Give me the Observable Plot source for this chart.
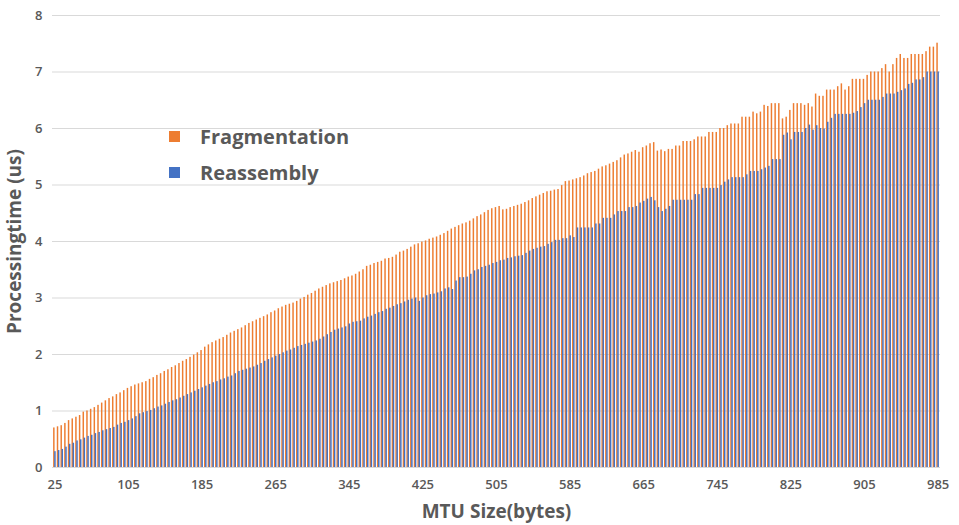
<!DOCTYPE html>
<html>
<head>
<meta charset="utf-8">
<script src="https://cdn.jsdelivr.net/npm/d3@7"></script>
<script src="https://cdn.jsdelivr.net/npm/@observablehq/plot@0.6"></script>
<style>
  html, body { margin: 0; padding: 0; background: #fff; }
  #wrap { position: relative; width: 959px; height: 525px; font-family: "Open Sans", sans-serif; }
  #chart g[aria-label="x-axis label"] text,
  #chart g[aria-label="y-axis label"] text { font-size: 19px; font-weight: 700; fill: #595959; }
  #chart g[aria-label="x-axis tick label"] text,
  #chart g[aria-label="y-axis tick label"] text { font-weight: 600; fill: #595959; }
  .legend { position: absolute; left: 169px; top: 118px; color: #595959; font-weight: 700; font-size: 20px; }
  .legend .row { display: flex; align-items: center; height: 36px; }
  .legend .sw { width: 11px; height: 11px; margin-right: 20px; }
</style>
</head>
<body>
<div id="wrap">
  <div id="chart"></div>
  <div class="legend" id="legend"></div>
</div>
<script>
// MTU sizes (bytes), one bar group each
const categories = d3.range(25, 986, 4);
// x-axis tick labels
const tickLabels = [25, 105, 185, 265, 345, 425, 505, 585, 665, 745, 825, 905, 985];
// y-axis ticks
const yTicks = [0, 1, 2, 3, 4, 5, 6, 7, 8];
const seriesNames = ["Fragmentation", "Reassembly"];
const seriesColors = ["#ED7D31", "#4472C4"];

// Fragmentation processing time (us)
const fragmentation = [
  0.70,0.72,0.74,0.78,0.83,0.86,0.89,0.92,0.98,1.00,
  1.03,1.06,1.10,1.14,1.18,1.22,1.25,1.29,1.32,1.36,
  1.40,1.43,1.46,1.48,1.50,1.52,1.56,1.59,1.63,1.66,
  1.70,1.73,1.77,1.80,1.84,1.88,1.91,1.95,1.99,2.03,
  2.07,2.13,2.17,2.21,2.24,2.27,2.30,2.34,2.38,2.41,
  2.44,2.47,2.51,2.55,2.58,2.61,2.64,2.67,2.70,2.74,
  2.77,2.81,2.84,2.87,2.89,2.91,2.94,2.98,3.01,3.05,
  3.08,3.12,3.16,3.19,3.22,3.25,3.27,3.29,3.31,3.34,
  3.37,3.39,3.42,3.46,3.50,3.56,3.58,3.61,3.63,3.65,
  3.69,3.70,3.72,3.76,3.81,3.83,3.86,3.90,3.94,3.96,
  3.99,4.01,4.04,4.06,4.08,4.11,4.14,4.18,4.22,4.25,
  4.28,4.31,4.33,4.36,4.40,4.44,4.47,4.51,4.55,4.58,
  4.60,4.62,4.56,4.57,4.60,4.62,4.64,4.66,4.69,4.72,
  4.76,4.79,4.82,4.85,4.88,4.89,4.91,4.92,4.99,5.06,
  5.07,5.09,5.11,5.13,5.16,5.20,5.22,5.24,5.28,5.32,
  5.34,5.37,5.40,5.43,5.48,5.53,5.55,5.58,5.61,5.58,
  5.66,5.69,5.73,5.75,5.60,5.62,5.59,5.63,5.63,5.69,
  5.69,5.77,5.77,5.77,5.80,5.85,5.85,5.85,5.93,5.93,
  5.93,6.00,6.00,6.05,6.08,6.08,6.08,6.20,6.20,6.20,
  6.29,6.26,6.29,6.41,6.39,6.44,6.44,6.44,6.17,6.20,
  6.32,6.44,6.44,6.44,6.41,6.44,6.38,6.61,6.57,6.57,
  6.68,6.68,6.68,6.74,6.79,6.68,6.74,6.87,6.87,6.87,
  6.87,6.94,7.00,7.00,7.00,7.06,7.13,7.00,7.13,7.24,
  7.31,7.24,7.24,7.31,7.31,7.31,7.31,7.36,7.44,7.44,
  7.51
];

// Reassembly processing time (us)
const reassembly = [
  0.28,0.30,0.32,0.36,0.41,0.43,0.47,0.49,0.52,0.55,
  0.57,0.60,0.62,0.65,0.67,0.69,0.71,0.75,0.78,0.80,
  0.83,0.86,0.90,0.95,0.97,0.99,1.01,1.04,1.07,1.09,
  1.12,1.15,1.18,1.20,1.23,1.26,1.29,1.32,1.35,1.38,
  1.41,1.44,1.47,1.50,1.52,1.55,1.57,1.60,1.62,1.66,
  1.70,1.72,1.74,1.76,1.78,1.81,1.84,1.88,1.91,1.94,
  1.97,2.00,2.03,2.06,2.08,2.11,2.14,2.16,2.18,2.20,
  2.22,2.24,2.27,2.31,2.35,2.39,2.43,2.45,2.47,2.49,
  2.54,2.57,2.58,2.59,2.63,2.66,2.68,2.71,2.74,2.76,
  2.80,2.82,2.85,2.88,2.90,2.93,2.96,2.98,3.00,2.94,
  3.00,3.04,3.06,3.07,3.09,3.11,3.16,3.18,3.15,3.30,
  3.36,3.36,3.37,3.42,3.48,3.50,3.54,3.56,3.58,3.61,
  3.63,3.66,3.67,3.70,3.71,3.73,3.74,3.75,3.79,3.83,
  3.86,3.88,3.90,3.91,3.95,3.98,4.02,4.02,4.05,4.05,
  4.10,4.07,4.24,4.24,4.24,4.24,4.24,4.31,4.31,4.41,
  4.41,4.41,4.47,4.53,4.53,4.53,4.60,4.60,4.62,4.68,
  4.71,4.75,4.78,4.72,4.60,4.53,4.57,4.62,4.73,4.73,
  4.73,4.73,4.73,4.73,4.83,4.83,4.94,4.94,4.94,4.94,
  4.94,4.99,5.05,5.09,5.13,5.13,5.13,5.13,5.18,5.24,
  5.24,5.24,5.27,5.30,5.33,5.45,5.45,5.45,5.88,5.92,
  5.80,5.93,5.93,5.93,6.00,6.06,5.97,6.05,6.00,5.99,
  6.11,6.18,6.25,6.25,6.25,6.25,6.25,6.27,6.30,6.37,
  6.44,6.50,6.50,6.50,6.50,6.55,6.61,6.61,6.61,6.64,
  6.67,6.70,6.78,6.80,6.86,6.86,6.90,7.00,7.00,7.00,
  7.00
];

const rows = categories.map((mtu, i) => ({ mtu, frag: fragmentation[i], reas: reassembly[i] }));

const chart = Plot.plot({
  width: 959,
  height: 525,
  marginLeft: 52,
  marginRight: 19,
  marginTop: 15,
  marginBottom: 58,
  style: { fontFamily: "'Open Sans', sans-serif", fontSize: "13px", color: "#595959", background: "#fff" },
  x: { type: "band", domain: categories, padding: 0.3 },
  y: { domain: [0, 8] },
  marks: [
    Plot.gridY(yTicks, { stroke: "#d9d9d9", strokeOpacity: 1, strokeWidth: 1 }),
    Plot.barY(rows, { x: "mtu", y: "frag", fill: seriesColors[0], insetRight: 1.1 }),
    Plot.barY(rows, { x: "mtu", y: "reas", fill: seriesColors[1], insetLeft: 1.1 }),
    Plot.axisX({ ticks: tickLabels, tickSize: 0, tickPadding: 12, label: "MTU Size(bytes)", labelAnchor: "center", labelArrow: "none", labelOffset: 50 }),
    Plot.axisY({ ticks: yTicks, tickSize: 0, tickPadding: 10, label: "Processingtime (us)", labelAnchor: "center", labelArrow: "none", labelOffset: 45 })
  ]
});
document.getElementById("chart").appendChild(chart);

const legend = document.getElementById("legend");
seriesNames.forEach((name, i) => {
  const row = document.createElement("div");
  row.className = "row";
  const sw = document.createElement("span");
  sw.className = "sw";
  sw.style.background = seriesColors[i];
  const t = document.createElement("span");
  t.textContent = name;
  row.appendChild(sw);
  row.appendChild(t);
  legend.appendChild(row);
});
</script>
</body>
</html>
